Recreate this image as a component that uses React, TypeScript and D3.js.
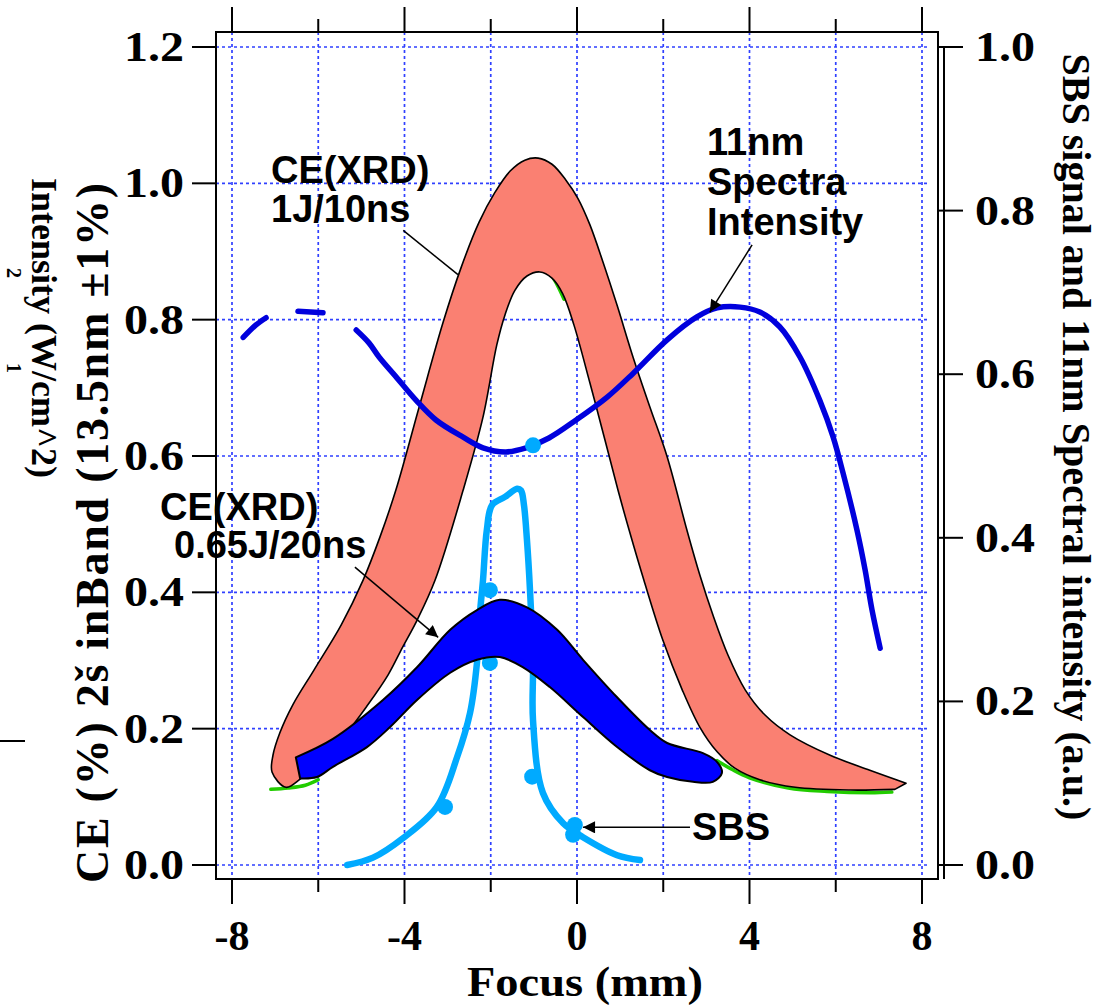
import React from 'react';
import * as d3 from 'd3';

// ---------- axis ticks ----------
const xTicksMajor = [-8, -4, 0, 4, 8];
const xTicksMinor = [-6, -2, 2, 6];
const xGridTicks = [-8, -6, -4, -2, 0, 2, 4, 6, 8];
const yLeftTicks = [0, 0.2, 0.4, 0.6, 0.8, 1.0, 1.2];
const yRightTicks = [0, 0.2, 0.4, 0.6, 0.8, 1.0];

// ---------- CE(XRD) 1J/10ns band (left axis) ----------
const ce1jOuter: [number, number][] = [
  [-7.07, 0.136], [-7.05, 0.161], [-6.89, 0.194], [-6.59, 0.235], [-6.1, 0.286],
  [-5.47, 0.352], [-4.96, 0.418], [-4.57, 0.481], [-4.2, 0.55], [-3.66, 0.672],
  [-3.11, 0.795], [-2.69, 0.876], [-2.27, 0.943], [-1.9, 0.987], [-1.55, 1.018],
  [-1.21, 1.034], [-0.9, 1.037], [-0.58, 1.028], [-0.26, 1.005], [0.02, 0.978],
  [0.3, 0.939], [0.6, 0.885], [0.93, 0.821], [1.3, 0.745], [1.69, 0.672],
  [2.09, 0.599], [2.55, 0.491], [2.85, 0.425], [3.15, 0.367], [3.5, 0.308],
  [3.9, 0.257], [4.36, 0.22], [4.94, 0.191], [5.87, 0.161], [6.79, 0.139],
  [7.63, 0.12],
];
const ce1jInner: [number, number][] = [
  [7.37, 0.111], [6.33, 0.11], [5.06, 0.114], [4.24, 0.125], [3.66, 0.142],
  [3.25, 0.166], [2.85, 0.202], [2.44, 0.257], [1.99, 0.33], [1.55, 0.418],
  [1.21, 0.491], [0.95, 0.55], [0.65, 0.623], [0.3, 0.707], [-0.07, 0.792],
  [-0.33, 0.838], [-0.58, 0.861], [-0.86, 0.87], [-1.16, 0.864], [-1.44, 0.843],
  [-1.67, 0.807], [-1.86, 0.763], [-2.18, 0.657], [-2.64, 0.55], [-3.29, 0.418],
  [-3.71, 0.359], [-4.04, 0.32], [-4.38, 0.279], [-4.85, 0.235], [-5.38, 0.191],
  [-5.96, 0.154], [-6.42, 0.126], [-6.75, 0.114],
];

// ---------- CE(XRD) 0.65J/20ns band (left axis) ----------
const ce065Upper: [number, number][] = [
  [-6.52, 0.158], [-5.66, 0.185], [-4.5, 0.242], [-3.71, 0.29], [-2.94, 0.345],
  [-2.32, 0.374], [-1.79, 0.389], [-1.16, 0.378], [-0.46, 0.345], [0.14, 0.301],
  [0.93, 0.246], [1.69, 0.198], [2.09, 0.179], [2.92, 0.164], [3.25, 0.151],
  [3.36, 0.135],
];
const ce065Lower: [number, number][] = [
  [3.15, 0.122], [2.69, 0.122], [2.09, 0.129], [1.69, 0.139], [0.93, 0.173],
  [0.14, 0.217], [-0.63, 0.261], [-1.25, 0.29], [-1.79, 0.305], [-2.32, 0.301],
  [-2.94, 0.282], [-3.71, 0.242], [-4.34, 0.202], [-4.87, 0.173], [-5.66, 0.144],
  [-6.03, 0.129], [-6.42, 0.127],
];

// ---------- green fit traces (left axis, visible pieces) ----------
const greenLeft: [number, number][] = [[-7.1, 0.111], [-6.7, 0.113], [-6.3, 0.117], [-6.0, 0.125]];
const greenPeak: [number, number][] = [[-0.6, 0.866], [-0.45, 0.85], [-0.3, 0.83]];
const greenRight: [number, number][] = [
  [3.25, 0.153], [3.6, 0.14], [4.0, 0.128], [4.9, 0.113], [5.8, 0.108], [6.8, 0.106], [7.3, 0.107],
];

// ---------- 11nm spectra intensity (right axis) ----------
const spec11SegA: [number, number][] = [[-7.74, 0.645], [-7.45, 0.66], [-7.21, 0.669]];
const spec11SegB: [number, number][] = [[-6.47, 0.677], [-5.89, 0.675]];
const spec11Main: [number, number][] = [
  [-5.12, 0.654], [-4.82, 0.638], [-4.59, 0.621], [-4.2, 0.597], [-3.73, 0.568],
  [-3.27, 0.544], [-2.64, 0.523], [-2.18, 0.51], [-1.65, 0.505], [-1.18, 0.51],
  [-0.65, 0.522], [-0.02, 0.544], [0.7, 0.572], [1.3, 0.601], [2.09, 0.642],
  [2.78, 0.67], [3.25, 0.681], [3.78, 0.682], [4.24, 0.676], [4.7, 0.658],
  [5.17, 0.621], [5.63, 0.568], [5.94, 0.523], [6.17, 0.479], [6.49, 0.41],
  [6.68, 0.361], [6.84, 0.312], [7.03, 0.265],
];

// ---------- SBS signal (right axis) ----------
const sbsLine: [number, number][] = [
  [-5.33, 0.0], [-4.73, 0.009], [-4.03, 0.033], [-3.25, 0.071], [-2.78, 0.132],
  [-2.48, 0.186], [-2.32, 0.247], [-2.25, 0.308], [-2.18, 0.348], [-2.09, 0.41],
  [-1.97, 0.44], [-1.67, 0.45], [-1.39, 0.46], [-1.3, 0.458], [-1.23, 0.44],
  [-1.16, 0.397], [-1.09, 0.336], [-1.02, 0.247], [-1.02, 0.177], [-0.79, 0.088],
  [-0.32, 0.051], [0.14, 0.034], [0.93, 0.012], [1.46, 0.006],
];
const sbsPoints: [number, number][] = [
  [-3.06, 0.071], [-2.02, 0.336], [-2.02, 0.247], [-1.02, 0.513],
  [-1.04, 0.108], [-0.05, 0.049], [-0.09, 0.037],
];

const W = 1113;
const H = 1006;
const frame = { left: 216, right: 938, top: 32, bottom: 879 };

const x = d3.scaleLinear().domain([-8, 8]).range([232, 922]);
const yL = d3.scaleLinear().domain([0, 1.2]).range([865, 47]);
const yR = d3.scaleLinear().domain([0, 1.0]).range([865, 47]);

const serif = "'Liberation Serif', 'Times New Roman', Times, serif";
const sans = "'Liberation Sans', Arial, Helvetica, sans-serif";

function lineL(pts: [number, number][]) {
  return d3.line<[number, number]>().x((d) => x(d[0])).y((d) => yL(d[1])).curve(d3.curveCatmullRom.alpha(0.5))(pts) || '';
}
function lineR(pts: [number, number][]) {
  return d3.line<[number, number]>().x((d) => x(d[0])).y((d) => yR(d[1])).curve(d3.curveCatmullRom.alpha(0.5))(pts) || '';
}
function ring(pts: [number, number][]) {
  return lineL(pts) + 'Z';
}

export default function App() {
  const gridColor = '#1a2cff';
  return (
    <svg
      width={W}
      height={H}
      viewBox={`0 0 ${W} ${H}`}
      style={{ position: 'absolute', left: 0, top: 0, background: '#fff', display: 'block' }}
    >
      <defs>
        <marker id="arr" viewBox="0 0 10 10" refX="10" refY="5" markerWidth="18" markerHeight="12" markerUnits="userSpaceOnUse" orient="auto">
          <path d="M0,0 L10,5 L0,10 Z" fill="#000" />
        </marker>
        <clipPath id="plotClip">
          <rect x={frame.left} y={frame.top} width={frame.right - frame.left} height={frame.bottom - frame.top} />
        </clipPath>
      </defs>
      <rect x={0} y={0} width={W} height={H} fill="#fff" />

      {/* grid */}
      <g stroke={gridColor} strokeWidth={1.7} strokeDasharray="3 3" opacity={0.9}>
        {yLeftTicks.map((t) => (
          <line key={'hg' + t} x1={frame.left} x2={929} y1={yL(t)} y2={yL(t)} />
        ))}
        {xGridTicks.map((t) => (
          <line key={'vg' + t} x1={x(t)} x2={x(t)} y1={frame.top} y2={frame.bottom} />
        ))}
      </g>

      <g clipPath="url(#plotClip)">
        {/* green traces */}
        {[greenLeft, greenPeak, greenRight].map((g, i) => (
          <path key={'g' + i} d={lineL(g)} fill="none" stroke="#22cc00" strokeWidth={3.5} strokeLinecap="round" />
        ))}

        {/* salmon band */}
        <path d={ring([...ce1jInner, ...ce1jOuter])} fill="#fa8072" stroke="#000" strokeWidth={1.6} strokeLinejoin="round" />

        {/* SBS line */}
        <path d={lineR(sbsLine)} fill="none" stroke="#00aaff" strokeWidth={6.5} strokeLinejoin="round" strokeLinecap="round" />

        {/* 11nm spectra */}
        {[spec11SegA, spec11SegB, spec11Main].map((s, i) => (
          <path key={'sp' + i} d={lineR(s)} fill="none" stroke="#0000dd" strokeWidth={5.5} strokeLinecap="round" strokeLinejoin="round" />
        ))}

        {/* SBS points */}
        {sbsPoints.map((p, i) => (
          <circle key={'s' + i} cx={x(p[0])} cy={yR(p[1])} r={8} fill="#00aaff" />
        ))}

        {/* blue band */}
        <path d={ring([...ce065Upper, ...ce065Lower])} fill="#0000ff" stroke="#000" strokeWidth={2} strokeLinejoin="round" />
      </g>

      {/* frame and axes */}
      <g stroke="#000" strokeWidth={2} fill="none">
        <rect x={frame.left} y={frame.top} width={frame.right - frame.left} height={frame.bottom - frame.top} />
        <line x1={944} x2={944} y1={frame.top + 14} y2={frame.bottom} />
        {xTicksMajor.map((t) => (
          <g key={'xm' + t}>
            <line x1={x(t)} x2={x(t)} y1={frame.bottom} y2={904} />
            <line x1={x(t)} x2={x(t)} y1={frame.top} y2={7} />
          </g>
        ))}
        {xTicksMinor.map((t) => (
          <g key={'xn' + t}>
            <line x1={x(t)} x2={x(t)} y1={frame.bottom} y2={892} />
            <line x1={x(t)} x2={x(t)} y1={frame.top} y2={19} />
          </g>
        ))}
        {yLeftTicks.map((t) => (
          <line key={'yl' + t} x1={192} x2={frame.left} y1={yL(t)} y2={yL(t)} />
        ))}
        {yRightTicks.map((t) => (
          <line key={'yr' + t} x1={frame.right} x2={963} y1={yR(t)} y2={yR(t)} />
        ))}
      </g>

      {/* tick labels */}
      <g fontFamily={serif} fontWeight="bold" fontSize={42} fill="#000">
        {xTicksMajor.map((t) => (
          <text key={'xl' + t} x={x(t)} y={950} textAnchor="middle">{t}</text>
        ))}
        {yLeftTicks.map((t) => (
          <text key={'yll' + t} x={184} y={yL(t) + 14} textAnchor="end" textLength={60} lengthAdjust="spacingAndGlyphs">{t.toFixed(1)}</text>
        ))}
        {yRightTicks.map((t) => (
          <text key={'yrl' + t} x={975} y={yR(t) + 14} textAnchor="start" textLength={60} lengthAdjust="spacingAndGlyphs">{t.toFixed(1)}</text>
        ))}
      </g>

      {/* axis titles */}
      <g fontFamily={serif} fontWeight="bold" fill="#000">
        <text x={585} y={996} fontSize={42} textAnchor="middle" textLength={236} lengthAdjust="spacingAndGlyphs">Focus (mm)</text>
        <text transform={`translate(1076,437) rotate(90)`} fontSize={40} textAnchor="middle" dominantBaseline="central">
          SBS signal and 11nm Spectral intensity (a.u.)
        </text>
        <text transform={`translate(92,533) rotate(-90)`} fontSize={46} textAnchor="middle" dominantBaseline="central" textLength={700} lengthAdjust="spacing">
          CE (%)  2š inBand (13.5nm ±1%)
        </text>
        <text transform={`translate(44,328) rotate(90)`} fontSize={36} textAnchor="middle" dominantBaseline="central">
          Intensity (W/cm^2)
        </text>
        <text transform={`translate(14,273) rotate(90)`} fontSize={20} textAnchor="middle" dominantBaseline="central">2</text>
        <text transform={`translate(14,368) rotate(90)`} fontSize={20} textAnchor="middle" dominantBaseline="central">1</text>
        <line x1={0} x2={25} y1={741} y2={741} stroke="#000" strokeWidth={2} />
      </g>

      {/* annotations */}
      <g fontFamily={sans} fontWeight="bold" fontSize={38} fill="#000">
        <text x={271} y={183}>CE(XRD)</text>
        <text x={271} y={222}>1J/10ns</text>
        <line x1={x(-4.03)} y1={yL(0.931)} x2={x(-2.76)} y2={yL(0.866)} stroke="#000" strokeWidth={1.5} />

        <text x={707} y={155}>11nm</text>
        <text x={707} y={195}>Spectra</text>
        <text x={707} y={235}>Intensity</text>
        <line x1={x(4.06)} y1={yR(0.758)} x2={x(3.08)} y2={yR(0.676)} stroke="#000" strokeWidth={1.5} markerEnd="url(#arr)" />

        <text x={160} y={520}>CE(XRD)</text>
        <text x={174} y={558}>0.65J/20ns</text>
        <line x1={x(-5.15)} y1={yL(0.437)} x2={x(-3.22)} y2={yL(0.334)} stroke="#000" strokeWidth={1.5} markerEnd="url(#arr)" />

        <text x={692} y={840}>SBS</text>
        <line x1={x(2.62)} y1={yR(0.046)} x2={x(0.14)} y2={yR(0.046)} stroke="#000" strokeWidth={1.5} markerEnd="url(#arr)" />
      </g>
    </svg>
  );
}
